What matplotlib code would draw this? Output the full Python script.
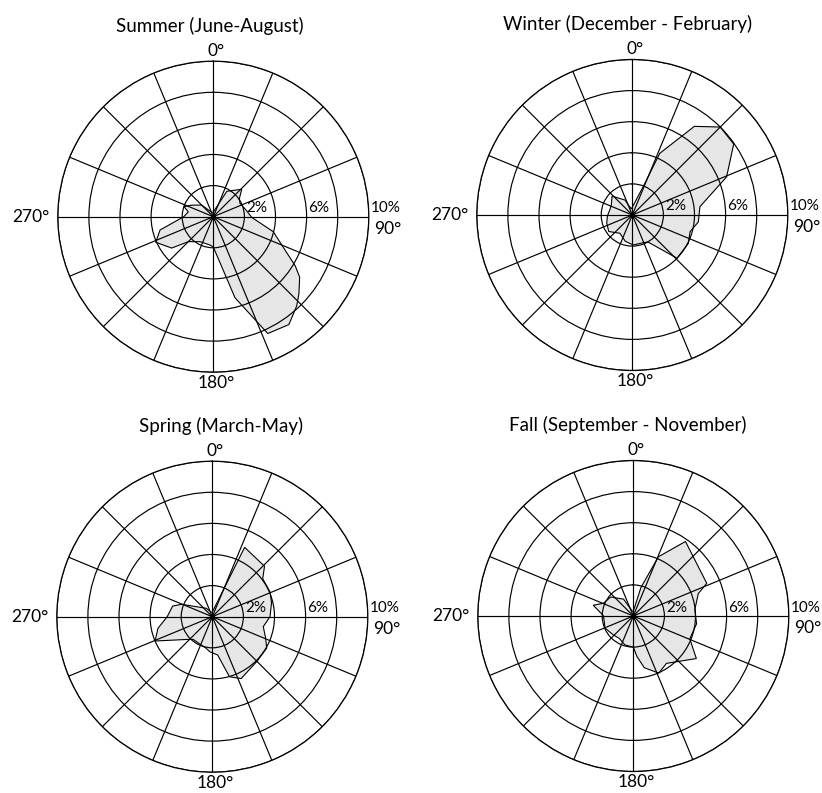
import numpy as np
import matplotlib
matplotlib.use("Agg")
import matplotlib.pyplot as plt

plt.rcParams['font.family'] = ['Lato', 'DejaVu Sans']

W, H = 822, 793

# wind direction (deg, clockwise from north) and share of observations (%)
summer_dir = [0, 28, 46, 55, 63, 78, 91, 104, 121, 125, 132, 137, 145, 155, 165,
              180, 187, 208, 225, 233, 246, 256, 270, 281, 289, 298, 315, 340]
summer_pct = [0.3, 1.85, 2.54, 2.05, 1.92, 2.14, 2.47, 3.97, 6.15, 6.78, 7.41, 7.86, 8.47, 8.29, 5.4,
              1.95, 1.83, 1.82, 2.27, 3.35, 4.05, 3.53, 1.9, 1.64, 1.99, 1.58, 1.06, 0.3]

winter_dir = [0, 21, 24, 35, 45, 55, 68, 83, 96, 106, 117, 134, 150, 162, 178,
              195, 214, 235, 253, 268, 284, 296, 313, 334, 350]
winter_pct = [0.5, 1.95, 4.34, 6.96, 8.0, 7.96, 6.54, 4.38, 4.27, 3.87, 4.04, 4.0, 2.0, 1.9, 1.93,
              1.75, 1.42, 1.85, 1.72, 1.6, 1.48, 1.5, 1.78, 1.07, 0.4]

spring_dir = [0, 25, 46, 53, 67, 77, 90, 101, 112, 120, 135, 155, 164, 172,
              184, 191, 220, 227, 247, 258, 270, 285, 292, 325, 345]
spring_pct = [0.3, 4.92, 4.67, 4.06, 4.04, 3.91, 3.71, 3.34, 3.7, 4.04, 4.06, 4.39, 4.02, 2.49,
              2.26, 2.07, 1.91, 2.14, 4.0, 3.57, 2.9, 2.64, 2.13, 0.66, 0.3]

fall_dir = [0, 15, 23, 35, 66, 71, 84, 97, 112, 124, 145, 156, 168, 175, 180,
            196, 212, 227, 247, 260, 271, 285, 293, 310, 330, 350]
fall_pct = [0.3, 1.9, 4.14, 5.85, 5.17, 4.42, 3.98, 4.1, 3.92, 4.89, 3.72, 4.02, 3.4, 2.6, 2.0,
            1.94, 1.7, 1.77, 1.98, 1.9, 1.93, 2.67, 2.09, 1.9, 1.25, 0.3]

titles = ["Summer (June-August)", "Winter (December - February)",
          "Spring (March-May)", "Fall (September - November)"]
rings = [2, 4, 6, 8, 10]
ring_labels = {2: "2%", 6: "6%", 10: "10%"}

seasons = [(summer_dir, summer_pct), (winter_dir, winter_pct),
           (spring_dir, spring_pct), (fall_dir, fall_pct)]

# panel centres in pixels and radius of the 10% ring
centers = [(213.3, 216.7), (632.3, 215.0), (212.3, 616.7), (633.3, 616.0)]
title_dx = [-3, -5, 9, -6]
R = 155.5


def fx(x):
    return x / W


def fy(y):
    return 1 - y / H


fig = plt.figure(figsize=(W / 100, H / 100), dpi=100)

for (dirs, pct), title, (cx, cy), tdx in zip(seasons, titles, centers, title_dx):
    ax = fig.add_axes([fx(cx - R), fy(cy + R), 2 * R / W, 2 * R / H], projection='polar')
    ax.set_theta_zero_location('N')
    ax.set_theta_direction(-1)
    ax.set_ylim(0, 10)

    theta = np.deg2rad(dirs + [dirs[0]])
    r = pct + [pct[0]]
    ax.fill(theta, r, facecolor='#e6e6e6', edgecolor='black', linewidth=0.8, zorder=1)

    ax.set_thetagrids(np.arange(0, 360, 22.5), labels=[])
    ax.set_rgrids(rings, labels=[])
    ax.grid(True, color='black', linewidth=0.85, linestyle='-')
    ax.set_axisbelow(False)
    ax.spines['polar'].set_linewidth(0.9)
    ax.tick_params(length=0)
    ax.plot([0], [0], 'o', color='black', markersize=3, zorder=5)

    for rv, lab in ring_labels.items():
        x0 = cx + R * rv / 10 + 1.5
        fig.text(fx(x0), fy(cy - 1.5), lab, fontsize=11, ha='left', va='bottom')

    fig.text(fx(cx + tdx), fy(cy - 191), title, fontsize=13.5, ha='center', va='center')
    fig.text(fx(cx + 3), fy(cy - 166), "0°", fontsize=12.5, ha='center', va='center')
    fig.text(fx(cx + 3), fy(cy + 166), "180°", fontsize=12.5, ha='center', va='center')
    fig.text(fx(cx - R - 8), fy(cy), "270°", fontsize=12.5, ha='right', va='center')
    fig.text(fx(cx + R + 5), fy(cy + 12), "90°", fontsize=12.5, ha='left', va='center')

fig.savefig("out.png", dpi=100, facecolor='white')
